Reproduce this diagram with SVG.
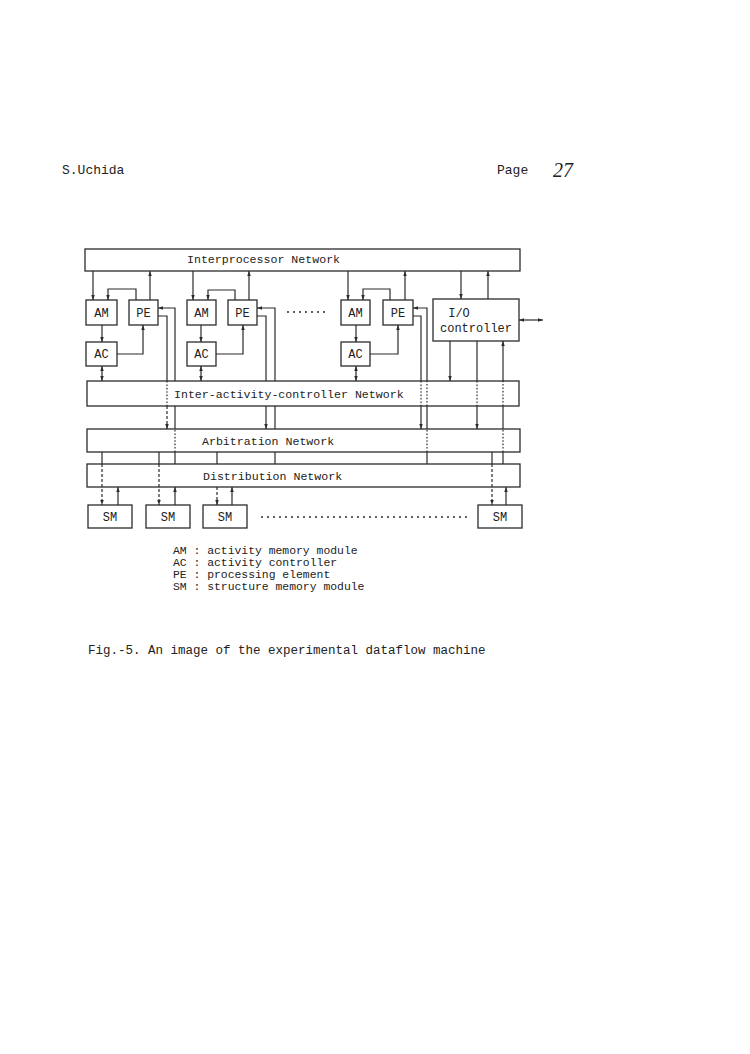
<svg xmlns="http://www.w3.org/2000/svg" width="750" height="1054" viewBox="0 0 750 1054">
<style>
.box{fill:#fff;stroke:#2b2b2b;stroke-width:1.3}
.ln{fill:none;stroke:#2b2b2b;stroke-width:1.2}
.dot{stroke-dasharray:1.6 1.8}
.dash{stroke-dasharray:3 2}
.dots{fill:none;stroke:#2b2b2b;stroke-width:2;stroke-linecap:round;stroke-dasharray:0 6}
.t{font-family:"Liberation Mono","DejaVu Sans Mono",monospace;font-size:11.6px;fill:#222}
.bl{font-family:"Liberation Mono","DejaVu Sans Mono",monospace;font-size:12px;fill:#222;text-anchor:middle}
.lg{font-family:"Liberation Mono","DejaVu Sans Mono",monospace;font-size:11.4px;fill:#222}
.hd{font-family:"Liberation Mono","DejaVu Sans Mono",monospace;font-size:13px;fill:#222}
</style>
<defs>
<marker id="ah" viewBox="0 0 10 10" refX="10" refY="5" markerWidth="5" markerHeight="5" markerUnits="userSpaceOnUse" orient="auto-start-reverse">
<path d="M0,1.5 L10,5 L0,8.5 z" fill="#2b2b2b"/>
</marker>
</defs>
<rect width="750" height="1054" fill="#fff"/>

<g id="header">
<text class="hd" x="62" y="174">S.Uchida</text>
<text class="hd" x="497" y="174">Page</text>
<text x="553" y="177" style="font-family:'Liberation Serif',serif;font-style:italic;font-size:20px;fill:#222">27</text>
</g>

<g id="interprocessor-network">
<rect class="box" x="85" y="249" width="435" height="22"/>
<text class="t" x="187" y="263">Interprocessor Network</text>
</g>
<g id="iac-network">
<rect class="box" x="87" y="381" width="432" height="25"/>
<text class="t" x="174" y="398">Inter-activity-controller Network</text>
</g>
<g id="arbitration-network">
<rect class="box" x="87" y="429" width="433" height="23"/>
<text class="t" x="202" y="445">Arbitration Network</text>
</g>
<g id="distribution-network">
<rect class="box" x="87" y="464" width="433" height="23"/>
<text class="t" x="203" y="480">Distribution Network</text>
</g>

<g id="am1"><rect class="box" x="86" y="300" width="31" height="25"/><text class="bl" x="101.5" y="316.5">AM</text></g>
<g id="pe1"><rect class="box" x="129" y="300" width="29" height="25"/><text class="bl" x="143.5" y="316.5">PE</text></g>
<g id="ac1"><rect class="box" x="86" y="342" width="31" height="24"/><text class="bl" x="101.5" y="358">AC</text></g>

<g id="am2"><rect class="box" x="187" y="300" width="29" height="25"/><text class="bl" x="201.5" y="316.5">AM</text></g>
<g id="pe2"><rect class="box" x="228" y="300" width="29" height="25"/><text class="bl" x="242.5" y="316.5">PE</text></g>
<g id="ac2"><rect class="box" x="187" y="342" width="29" height="24"/><text class="bl" x="201.5" y="358">AC</text></g>

<g id="am3"><rect class="box" x="341" y="300" width="29" height="25"/><text class="bl" x="355.5" y="316.5">AM</text></g>
<g id="pe3"><rect class="box" x="383" y="300" width="30" height="25"/><text class="bl" x="398" y="316.5">PE</text></g>
<g id="ac3"><rect class="box" x="341" y="342" width="29" height="24"/><text class="bl" x="355.5" y="358">AC</text></g>

<g id="io-controller">
<rect class="box" x="433" y="299" width="86" height="42"/>
<text class="bl" x="459" y="317">I/O</text>
<text class="bl" x="476" y="332">controller</text>
</g>

<g id="sm1"><rect class="box" x="88" y="505" width="44" height="23"/><text class="bl" x="110" y="520.5">SM</text></g>
<g id="sm2"><rect class="box" x="146" y="505" width="44" height="23"/><text class="bl" x="168" y="520.5">SM</text></g>
<g id="sm3"><rect class="box" x="203" y="505" width="44" height="23"/><text class="bl" x="225" y="520.5">SM</text></g>
<g id="sm4"><rect class="box" x="478" y="505" width="44" height="23"/><text class="bl" x="500" y="520.5">SM</text></g>

<g id="ellipses">
<line class="dots" x1="288" y1="312" x2="330" y2="312"/>
<line class="dots" x1="262" y1="517" x2="468" y2="517"/>
</g>

<g id="connectors">
<!-- column 1 -->
<path class="ln" d="M93,271 V300" marker-end="url(#ah)"/>
<path class="ln" d="M150,300 V271" marker-end="url(#ah)"/>
<path class="ln" d="M136,300 V289 H108 V300" marker-end="url(#ah)"/>
<path class="ln" d="M102,325 V342" marker-end="url(#ah)"/>
<path class="ln" d="M117,354 H143 V325" marker-end="url(#ah)"/>
<path class="ln" d="M102,366 V381" marker-start="url(#ah)" marker-end="url(#ah)"/>
<path class="ln" d="M158,316 H167 V381"/>
<path class="ln dot" d="M167,381 V406"/>
<path class="ln dash" d="M167,406 V429" marker-end="url(#ah)"/>
<path class="ln" d="M175,464 V452"/>
<path class="ln dot" d="M175,452 V429"/>
<path class="ln" d="M175,429 V406"/>
<path class="ln" d="M175,381 V308 H158" marker-end="url(#ah)"/>
<!-- column 2 -->
<path class="ln" d="M193,271 V300" marker-end="url(#ah)"/>
<path class="ln" d="M249,300 V271" marker-end="url(#ah)"/>
<path class="ln" d="M235,300 V290 H208 V300" marker-end="url(#ah)"/>
<path class="ln" d="M201,325 V342" marker-end="url(#ah)"/>
<path class="ln" d="M216,354 H243 V325" marker-end="url(#ah)"/>
<path class="ln" d="M201,366 V381" marker-start="url(#ah)" marker-end="url(#ah)"/>
<path class="ln" d="M257,316 H266 V381"/>
<path class="ln" d="M266,406 V429" marker-end="url(#ah)"/>
<path class="ln" d="M275,464 V452"/>
<path class="ln" d="M275,429 V406"/>
<path class="ln" d="M275,381 V308 H257" marker-end="url(#ah)"/>
<!-- column 3 -->
<path class="ln" d="M348,271 V300" marker-end="url(#ah)"/>
<path class="ln" d="M405,300 V271" marker-end="url(#ah)"/>
<path class="ln" d="M390,300 V289 H363 V300" marker-end="url(#ah)"/>
<path class="ln" d="M356,325 V342" marker-end="url(#ah)"/>
<path class="ln" d="M370,354 H398 V325" marker-end="url(#ah)"/>
<path class="ln" d="M356,366 V381" marker-start="url(#ah)" marker-end="url(#ah)"/>
<path class="ln" d="M413,316 H421 V381"/>
<path class="ln dot" d="M421,381 V406"/>
<path class="ln" d="M421,406 V429" marker-end="url(#ah)"/>
<path class="ln" d="M427,464 V452"/>
<path class="ln dot" d="M427,452 V429"/>
<path class="ln" d="M427,429 V406"/>
<path class="ln dot" d="M427,406 V381"/>
<path class="ln" d="M427,381 V308 H413" marker-end="url(#ah)"/>
<!-- I/O controller -->
<path class="ln" d="M461,271 V299" marker-end="url(#ah)"/>
<path class="ln" d="M488,299 V271" marker-end="url(#ah)"/>
<path class="ln" d="M519,320 H543" marker-start="url(#ah)" marker-end="url(#ah)"/>
<path class="ln" d="M450,341 V381" marker-end="url(#ah)"/>
<path class="ln" d="M477,341 V381"/>
<path class="ln dot" d="M477,381 V406"/>
<path class="ln" d="M477,406 V429" marker-end="url(#ah)"/>
<path class="ln" d="M503,464 V452"/>
<path class="ln dot" d="M503,452 V429"/>
<path class="ln" d="M503,429 V406"/>
<path class="ln dot" d="M503,406 V381"/>
<path class="ln" d="M503,381 V341" marker-end="url(#ah)"/>
<!-- arbitration to SMs through distribution -->
<path class="ln" d="M102,452 V464"/>
<path class="ln dash" d="M102,464 V505" marker-end="url(#ah)"/>
<path class="ln" d="M159,452 V464"/>
<path class="ln dash" d="M159,464 V505" marker-end="url(#ah)"/>
<path class="ln" d="M217,452 V464"/>
<path class="ln dash" d="M217,487 V505" marker-end="url(#ah)"/>
<path class="ln" d="M492,452 V464"/>
<path class="ln dash" d="M492,464 V505" marker-end="url(#ah)"/>
<!-- SMs to distribution -->
<path class="ln" d="M118,505 V487" marker-end="url(#ah)"/>
<path class="ln" d="M175,505 V487" marker-end="url(#ah)"/>
<path class="ln" d="M232,505 V487" marker-end="url(#ah)"/>
<path class="ln" d="M506,505 V487" marker-end="url(#ah)"/>
</g>

<g id="legend">
<text class="lg" x="173" y="554" xml:space="preserve">AM : activity memory module</text>
<text class="lg" x="173" y="566" xml:space="preserve">AC : activity controller</text>
<text class="lg" x="173" y="578" xml:space="preserve">PE : processing element</text>
<text class="lg" x="173" y="590" xml:space="preserve">SM : structure memory module</text>
</g>

<g id="caption">
<text x="88" y="654" style="font-family:'Liberation Mono','DejaVu Sans Mono',monospace;font-size:12.5px;fill:#222">Fig.-5. An image of the experimental dataflow machine</text>
</g>
</svg>
